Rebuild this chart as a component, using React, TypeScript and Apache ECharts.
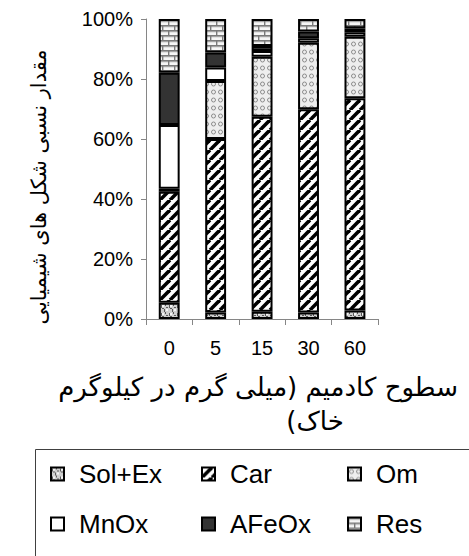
import React, { useEffect, useRef } from 'react';
import * as echarts from 'echarts';

// ---- data ----
const categories = ['0', '5', '15', '30', '60'];
const seriesNames = ['Sol+Ex', 'Car', 'Om', 'MnOx', 'AFeOx', 'Res'];
const solEx = [5.4, 2.2, 2.4, 2.2, 2.8];
const car = [37.0, 57.8, 65.0, 67.7, 70.8];
const om = [1.0, 19.3, 20.0, 22.2, 20.5];
const mnOx = [21.3, 4.5, 1.9, 1.5, 1.5];
const aFeOx = [17.4, 5.0, 1.7, 2.2, 1.3];
const res = [17.9, 11.2, 9.0, 4.2, 3.1];
const yTitle = 'مقدار نسبی شکل های شیمیایی';
// x-axis title "سطوح کادمیم (میلی گرم در کیلوگرم خاک)", words placed in visual (right-to-left) order
const xTitleLine1 = ['کیلوگرم', ' ', 'در', ' ', 'گرم', ' ', 'میلی', ')', ' ', 'کادمیم', ' ', 'سطوح'];
const xTitleLine2 = ['(', 'خاک'];

const latin = "'Liberation Sans', Arial, sans-serif";
const persian = "'DejaVu Sans', sans-serif";

function tile(w: number, h: number, draw: (ctx: CanvasRenderingContext2D) => void) {
  const c = document.createElement('canvas');
  c.width = w;
  c.height = h;
  const ctx = c.getContext('2d')!;
  draw(ctx);
  return { image: c.toDataURL(), repeat: 'repeat', imageWidth: w, imageHeight: h };
}

function makeFills() {
  const solExFill = tile(8, 8, (ctx) => {
    ctx.fillStyle = '#cfcfcf';
    ctx.fillRect(0, 0, 8, 8);
    ctx.fillStyle = '#5a5a5a';
    ctx.fillRect(1, 1, 1, 3);
    ctx.fillRect(2, 4, 2, 1);
    ctx.fillRect(5, 0, 1, 2);
    ctx.fillRect(4, 5, 1, 3);
    ctx.fillRect(6, 3, 2, 1);
    ctx.fillStyle = '#f4f4f4';
    ctx.fillRect(2, 1, 2, 2);
    ctx.fillRect(6, 5, 2, 2);
  });
  const carFill = tile(10, 10, (ctx) => {
    ctx.fillStyle = '#ffffff';
    ctx.fillRect(0, 0, 10, 10);
    ctx.strokeStyle = '#000000';
    ctx.lineWidth = 3.6;
    for (const k of [-10, 0, 10]) {
      ctx.beginPath();
      ctx.moveTo(k, 10);
      ctx.lineTo(k + 10, 0);
      ctx.stroke();
    }
  });
  const omFill = tile(7, 8, (ctx) => {
    ctx.fillStyle = '#eeeeee';
    ctx.fillRect(0, 0, 7, 8);
    ctx.strokeStyle = '#8c8c8c';
    ctx.lineWidth = 1;
    ctx.beginPath();
    ctx.arc(3.5, 4, 2, 0, Math.PI * 2);
    ctx.stroke();
  });
  const resFill = tile(12, 10, (ctx) => {
    ctx.fillStyle = '#f6f6f6';
    ctx.fillRect(0, 0, 12, 10);
    ctx.fillStyle = '#cfcfcf';
    ctx.fillRect(0, 1, 12, 1.5);
    ctx.fillRect(0, 6, 12, 1.5);
    ctx.strokeStyle = '#7a7a7a';
    ctx.lineWidth = 1.4;
    ctx.beginPath();
    ctx.moveTo(0, 0.7);
    ctx.lineTo(12, 0.7);
    ctx.moveTo(0, 5.7);
    ctx.lineTo(12, 5.7);
    ctx.moveTo(0.7, 0);
    ctx.lineTo(0.7, 5);
    ctx.moveTo(6.7, 5);
    ctx.lineTo(6.7, 10);
    ctx.stroke();
  });
  return [solExFill, carFill, omFill, '#ffffff', '#333333', resFill];
}

function richLine(tokens: string[]) {
  return tokens.map((t) => (t === ' ' ? ' ' : '{w|' + t + '}')).join('');
}

const richStyle = {
  w: { fontSize: 26, lineHeight: 35, color: '#000', fontFamily: persian, align: 'center' },
};

export default function App() {
  const ref = useRef<HTMLDivElement>(null);
  useEffect(() => {
    const el = ref.current;
    if (!el) return;
    const chart = echarts.init(el, null, { renderer: 'svg' });
    const fills = makeFills();
    const seriesData = [solEx, car, om, mnOx, aFeOx, res];
    const option: any = {
      animation: false,
      grid: { left: 146, right: -7, top: 19, bottom: 237 },
      xAxis: {
        type: 'category',
        data: categories,
        axisLine: { show: true, lineStyle: { color: '#868686', width: 1 } },
        axisTick: { show: true, length: 6, lineStyle: { color: '#868686' } },
        axisLabel: { fontSize: 20, color: '#000', margin: 19, fontFamily: latin },
        name: richLine(xTitleLine1),
        nameLocation: 'middle',
        nameGap: 50,
        nameTextStyle: {
          fontSize: 26,
          lineHeight: 35,
          color: '#000',
          fontFamily: persian,
          padding: [0, 8, 0, 0],
          rich: richStyle,
        },
      },
      yAxis: {
        type: 'value',
        min: 0,
        max: 100,
        interval: 20,
        axisLine: { show: true, lineStyle: { color: '#868686', width: 1 } },
        axisTick: { show: true, length: 5, lineStyle: { color: '#868686' } },
        splitLine: { show: false },
        axisLabel: { formatter: '{value}%', fontSize: 20, color: '#000', margin: 13, fontFamily: latin },
        name: yTitle,
        nameLocation: 'middle',
        nameGap: 97,
        nameTextStyle: {
          fontSize: 21,
          color: '#000',
          fontFamily: persian,
          padding: [0, 36, 0, 0],
        },
      },
      legend: {
        left: 50,
        top: 449,
        padding: 0,
        itemGap: 0,
        itemWidth: 13,
        itemHeight: 13,
        icon: 'rect',
        selectedMode: false,
        textStyle: {
          fontSize: 26,
          lineHeight: 50,
          color: '#000',
          fontFamily: latin,
          padding: [0, 0, 0, 10],
        },
        data: [
          { name: 'Sol+Ex', textStyle: { width: 122 } },
          { name: 'Car', textStyle: { width: 117 } },
          { name: 'Om' },
          '\n',
          { name: 'MnOx', textStyle: { width: 122 } },
          { name: 'AFeOx', textStyle: { width: 117 } },
          { name: 'Res' },
        ],
      },
      graphic: [
        {
          type: 'text',
          x: 315,
          y: 421,
          silent: true,
          style: {
            text: richLine(xTitleLine2),
            align: 'center',
            verticalAlign: 'middle',
            fontSize: 26,
            lineHeight: 35,
            fill: '#000',
            fontFamily: persian,
            rich: richStyle,
          },
        },
        {
          type: 'rect',
          shape: { x: 35.5, y: 449.5, width: 500, height: 200 },
          style: { fill: 'none', stroke: '#404040', lineWidth: 1 },
          silent: true,
        },
      ],
      series: seriesNames.map((name, i) => ({
        name,
        type: 'bar',
        stack: 'total',
        barWidth: '45%',
        data: seriesData[i],
        itemStyle: { color: fills[i], borderColor: '#000', borderWidth: 2 },
        emphasis: { disabled: true },
      })),
    };
    chart.setOption(option);
    return () => chart.dispose();
  }, []);
  return <div ref={ref} style={{ position: 'absolute', left: 0, top: 0, width: 469, height: 556 }} />;
}
